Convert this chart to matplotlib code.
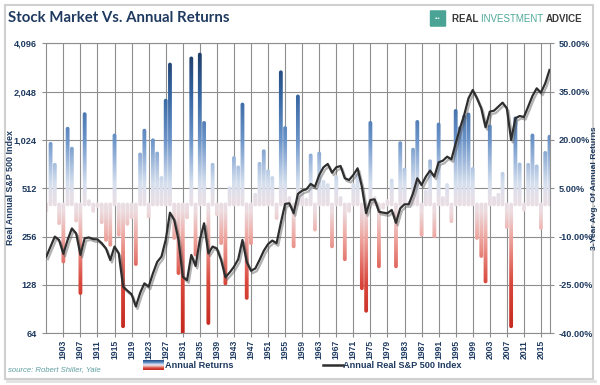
import numpy as np
import matplotlib
matplotlib.use("Agg")
import matplotlib.pyplot as plt
import matplotlib.patheffects as pe
from matplotlib.colors import LinearSegmentedColormap, Normalize
from matplotlib.path import Path
from matplotlib.patches import PathPatch, Rectangle, FancyBboxPatch
from matplotlib.lines import Line2D
from matplotlib.ticker import FixedLocator, FuncFormatter, NullLocator

plt.rcParams["font.family"] = ["Liberation Sans", "DejaVu Sans"]

# ── data ─────────────────────────────────────────────────────────────────
YEARS = list(range(1899, 2018))

# annual returns, %
RETURNS = [
    -2.0, 18.8, 12.3, -5.8, -17.7, 23.5, 17.3, -5.0, -27.5, 28.0,   # 1899-1908
    1.0, -2.0, -0.5, -5.5, -11.0, -12.5, 21.4, -9.4, -37.8, -6.0,    # 1909-1918
    -4.0, -18.5, 15.5, 22.9, -3.7, 19.9, 15.8, 8.2, 32.2, 43.4,      # 1919-1928
    -10.4, -21.3, -39.9, -4.0, 45.3, -15.6, 46.5, 25.3, -36.8, 12.3, # 1929-1938
    -3.0, -12.0, -24.5, 5.0, 14.4, 11.5, 31.0, -29.0, -12.0, 3.0,    # 1939-1948
    12.6, 16.5, 10.3, 8.2, -4.2, 41.0, 23.7, 2.0, -13.0, 33.5,       # 1949-1958
    3.5, 1.5, 15.2, -7.8, 15.8, 7.0, 6.0, -13.0, 8.5, 2.0,           # 1959-1968
    -17.0, -2.0, 6.0, 9.0, -26.0, -33.0, 25.3, 2.0, -19.2, -1.0,     # 1969-1978
    1.0, 7.4, -19.2, 19.0, 10.8, 0.5, 17.0, 25.6, -9.4, 4.0,         # 1979-1988
    13.4, -9.9, 24.8, 2.0, 6.0, -5.2, 29.0, 23.7, 27.3, 27.9,        # 1989-1998
    11.0, -10.4, -16.0, -23.9, 24.2, 2.0, 3.0, 9.5, -7.0, -37.8,     # 1999-2008
    26.7, 12.4, -1.6, 12.3, 21.4, 11.8, -7.3, 16.0, 21.0,            # 2009-2017
]

# annual real S&P 500 index
INDEX = [
    192, 222, 256, 244, 200, 244, 288, 268, 197, 250,     # 1899-1908
    253, 247, 246, 233, 216, 183, 222, 201, 125, 118,     # 1909-1918
    112, 94, 114, 131, 125, 151, 178, 192, 244, 361,      # 1919-1928
    325, 244, 144, 137, 197, 168, 244, 310, 201, 222,     # 1929-1938
    216, 183, 143, 153, 166, 185, 244, 178, 157, 162,     # 1939-1948
    183, 209, 230, 242, 233, 312, 409, 413, 358, 472,     # 1949-1958
    495, 505, 545, 524, 620, 692, 726, 641, 692, 705,     # 1959-1968
    591, 577, 620, 682, 524, 358, 433, 437, 366, 361,     # 1969-1978
    358, 375, 312, 384, 407, 407, 476, 591, 537, 605,     # 1979-1988
    660, 605, 743, 761, 806, 776, 975, 1210, 1465, 1860,  # 1989-1998
    2097, 1860, 1612, 1228, 1537, 1559, 1651, 1749, 1612, 1023,  # 1999-2008
    1397, 1444, 1423, 1651, 1924, 2147, 2018, 2308, 2794,        # 2009-2017
]

YEAR_TICKS = list(range(1903, 2016, 4))
INDEX_TICKS = [64, 128, 256, 512, 1024, 2048, 4096]
PCT_TICKS = [-40, -25, -10, 5, 20, 35, 50]

NAVY = "#1f3a60"
GRID = "#8e8e8e"

W, H = 600, 385
def fx(px):
    return px / W
def fy(py):
    return 1 - py / H

# gradient for the return bars: red below zero, pale near zero, blue above
bar_cmap = LinearSegmentedColormap.from_list("ret", [
    (0.00, "#c4281d"),
    (0.17, "#d9473b"),
    (0.33, "#eea7a1"),
    (0.42, "#ecdce0"),
    (0.47, "#e6e0e8"),
    (0.52, "#d3deee"),
    (0.67, "#6a93c8"),
    (0.83, "#34639f"),
    (1.00, "#1b365c"),
])
norm = Normalize(-40, 50)

fig = plt.figure(figsize=(W / 100, H / 100), dpi=100)

# outer frame
fig.add_artist(Rectangle((fx(5), fy(379)), fx(593) - fx(5), fy(5) - fy(379),
                         transform=fig.transFigure, facecolor="none",
                         edgecolor="#d0d0d0", lw=1.5))
fig.add_artist(Line2D([fx(7), fx(595)], [fy(381), fy(381)],
                      transform=fig.transFigure, color="#e2e2e2", lw=2))

ax_pos = [fx(46.3), fy(333.3), fx(549.5) - fx(46.3), fy(43.3) - fy(333.3)]
ax_r = fig.add_axes(ax_pos)
ax_l = ax_r.twinx()
ax_r.set_xlim(YEARS[0], YEARS[-1])
ax_r.set_ylim(-40, 50)

# bars -> clip region (round-capped) for a vertical gradient
bars = ax_r.bar(YEARS, RETURNS, width=0.9, color="none", edgecolor="none")
px_year = ax_pos[2] * W / (YEARS[-1] - YEARS[0])
px_pct = ax_pos[3] * H / 90.0
theta = np.linspace(0, np.pi, 9)
paths = []
for b in bars:
    x0, y0 = b.get_x(), b.get_y()
    w, h = b.get_width(), b.get_height()
    rx = w / 2
    ry = rx * px_year / px_pct
    cx = x0 + rx
    lo, hi = min(y0, y0 + h), max(y0, y0 + h)
    top = np.column_stack([cx + rx * np.cos(theta), hi + ry * np.sin(theta)])
    bot = np.column_stack([cx - rx * np.cos(theta), lo - ry * np.sin(theta)])
    pts = np.vstack([top, bot, top[:1]])
    codes = [Path.MOVETO] + [Path.LINETO] * (len(pts) - 2) + [Path.CLOSEPOLY]
    paths.append(Path(pts, codes))
clip = PathPatch(Path.make_compound_path(*paths), transform=ax_r.transData,
                 facecolor="none", edgecolor="none")
ax_r.add_patch(clip)
grad = np.linspace(-40, 50, 400).reshape(-1, 1)
im = ax_r.imshow(grad, extent=[1895, 2020, -40, 50], origin="lower",
                 aspect="auto", cmap=bar_cmap, norm=norm, zorder=2,
                 interpolation="bilinear")
im.set_clip_path(clip)

ax_r.set_xlim(YEARS[0], YEARS[-1])
ax_r.set_ylim(-40, 50)
ax_r.yaxis.tick_right()
ax_r.set_yticks(PCT_TICKS)
ax_r.yaxis.set_major_formatter(FuncFormatter(lambda v, _: f"{v:.2f}%"))
ax_r.set_xticks(YEAR_TICKS)
ax_r.set_xticklabels([str(y) for y in YEAR_TICKS], rotation=90)
ax_r.set_axisbelow(True)
ax_r.grid(True, color=GRID, lw=0.8)
ax_r.tick_params(axis="both", colors=GRID, labelcolor=NAVY, length=3, width=0.8)
ax_r.tick_params(axis="x", labelsize=6.2, pad=2)
ax_r.tick_params(axis="y", labelsize=6.6, pad=3.5)
for lab in ax_r.get_xticklabels() + ax_r.get_yticklabels():
    lab.set_fontweight("bold")
for s in ax_r.spines.values():
    s.set_color(GRID)
    s.set_linewidth(0.8)
fig.text(fx(594.5), fy(188), "3-Year Avg. Of Annual Returns", color=NAVY,
         fontsize=6.1, fontweight="bold", rotation=90, ha="center", va="center")

# index line on log2 scale
ax_l.plot(YEARS, INDEX, color="#2e2e2e", lw=1.6, zorder=5,
          path_effects=[pe.SimpleLineShadow(offset=(1.2, -1.8), shadow_color="#555555", alpha=0.45),
                        pe.Normal()])
ax_l.set_yscale("log", base=2)
ax_l.set_ylim(64, 4096)
ax_l.yaxis.tick_left()
ax_l.yaxis.set_major_locator(FixedLocator(INDEX_TICKS))
ax_l.yaxis.set_minor_locator(NullLocator())
ax_l.yaxis.set_major_formatter(FuncFormatter(lambda v, _: f"{int(round(v)):,}"))
ax_l.tick_params(axis="y", colors=GRID, labelcolor=NAVY, length=3, width=0.8,
                 labelsize=6.6, pad=4)
for lab in ax_l.get_yticklabels():
    lab.set_fontweight("bold")
for s in ax_l.spines.values():
    s.set_visible(False)
fig.text(fx(11), fy(188), "Real Annual S&P 500 Index", color=NAVY,
         fontsize=6.4, fontweight="bold", rotation=90, ha="center", va="center")

# title + logo
fig.text(fx(8), fy(18), "Stock Market Vs. Annual Returns", fontsize=10.8,
         fontweight="bold", color=NAVY, va="center", ha="left", family="Lato")
shield = FancyBboxPatch((fx(431), fy(26)), fx(14), fy(11) - fy(26),
                        boxstyle="round,pad=0.002", transform=fig.transFigure,
                        facecolor="#4aa394", edgecolor="none")
fig.add_artist(shield)
fig.text(fx(438), fy(18.5), "•••", fontsize=3.5, color="white", ha="center", va="center")
t1 = fig.text(fx(452), fy(19), "REAL ", fontsize=7, color="#3a3a3a", va="center",
              ha="left", fontweight="bold")
fig.canvas.draw()
r = fig.canvas.get_renderer()
bb = t1.get_window_extent(r)
t2 = fig.text(bb.x1 / W, fy(19), "INVESTMENT ", fontsize=7, color="#4fa89a",
              va="center", ha="left")
bb = t2.get_window_extent(r)
fig.text(bb.x1 / W, fy(19), "ADVICE", fontsize=7, color="#3a3a3a", va="center",
         ha="left", fontweight="bold")

# legend
leg_ax = fig.add_axes([fx(143), fy(370), fx(21), fy(360) - fy(370)])
leg_ax.imshow(np.linspace(-40, 50, 50).reshape(-1, 1), origin="lower",
              aspect="auto", cmap=bar_cmap, norm=norm)
leg_ax.axis("off")
fig.text(fx(165), fy(365), "Annual Returns", fontsize=6.6, color=NAVY,
         fontweight="bold", va="center", ha="left")
fig.add_artist(Line2D([fx(323), fx(343)], [fy(365), fy(365)],
                      transform=fig.transFigure, color="#2e2e2e", lw=1.8))
fig.text(fx(343), fy(365), "Annual Real S&P 500 Index", fontsize=6.6, color=NAVY,
         fontweight="bold", va="center", ha="left")
fig.text(fx(8), fy(370), "source: Robert Shiller, Yale", fontsize=5.6,
         color="#5f9ea0", style="italic", va="center", ha="left")

fig.savefig("out.png", dpi=100)
